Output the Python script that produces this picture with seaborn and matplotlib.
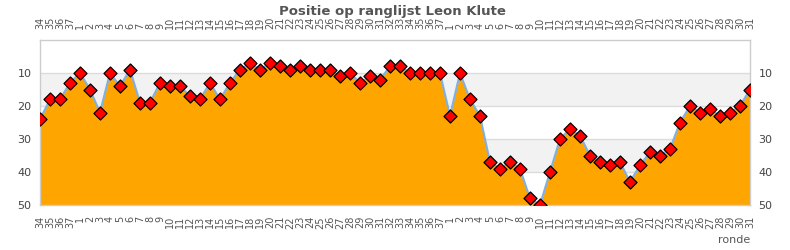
import matplotlib
matplotlib.use("Agg")
import matplotlib.pyplot as plt
import seaborn as sns
import pandas as pd
import numpy as np

rounds = (["34", "35", "36", "37"]
          + [str(i) for i in range(1, 38)]
          + [str(i) for i in range(1, 32)])
positions = ([24, 18, 18, 13]
             + [10, 15, 22, 10, 14, 9, 19, 19, 13, 14, 14, 17, 18, 13, 18, 13, 9, 7, 9, 7,
                8, 9, 8, 9, 9, 9, 11, 10, 13, 11, 12, 8, 8, 10, 10, 10, 10]
             + [23, 10, 18, 23, 37, 39, 37, 39, 48, 50, 40, 30, 27, 29, 35, 37, 38, 37, 43,
                38, 34, 35, 33, 25, 20, 22, 21, 23, 22, 20, 15])
yticks = [10, 20, 30, 40, 50]

df = pd.DataFrame({"idx": np.arange(len(rounds)), "ronde": rounds, "positie": positions})

sns.set_theme(style="white")
plt.rcParams["font.family"] = ["DejaVu Sans"]

fig = plt.figure(figsize=(7.9, 2.5), dpi=100)
ax = fig.add_axes([40 / 790, 1 - 205 / 250, 710 / 790, 165 / 250])

# bands and grid
for lo, hi in [(10, 20), (30, 40)]:
    ax.axhspan(lo, hi, color="#f2f2f2", zorder=0, lw=0)
for y in [10, 20, 30, 40]:
    ax.axhline(y, color="#dcdcdc", lw=1, zorder=0.5)

ax.fill_between(df["idx"], df["positie"], 50, color="#FFA500", lw=0, zorder=1)
sns.lineplot(data=df, x="idx", y="positie", ax=ax, color="#7fb0e0", lw=1.5, zorder=2)
sns.scatterplot(data=df, x="idx", y="positie", ax=ax, marker="D", s=44,
                color="#ff0000", edgecolor="black", linewidth=0.9, zorder=3)

ax.set_xlim(0, len(rounds) - 1)
ax.set_ylim(50, 0)
ax.set_xticks(df["idx"])
ax.set_xticklabels(rounds)
ax.set_yticks(yticks)
ax.set_yticklabels([str(v) for v in yticks])
ax.tick_params(axis="x", labelrotation=90, labelsize=7, labelcolor="#555555",
               length=0, pad=8, labeltop=True, labelbottom=True)
ax.tick_params(axis="y", labelsize=8, labelcolor="#444444", length=0, pad=6,
               labelleft=True, labelright=True)
ax.set_xlabel("")
ax.set_ylabel("")
for s in ax.spines.values():
    s.set_color("#cccccc")
    s.set_linewidth(1)

fig.text(0.497, 1 - 11 / 250, "Positie op ranglijst Leon Klute", ha="center", va="center",
         fontsize=9.5, fontweight="bold", color="#555555")
fig.text(750 / 790, 1 - 240 / 250, "ronde", ha="right", va="center",
         fontsize=8, color="#555555")

fig.savefig("out.png", dpi=100)
